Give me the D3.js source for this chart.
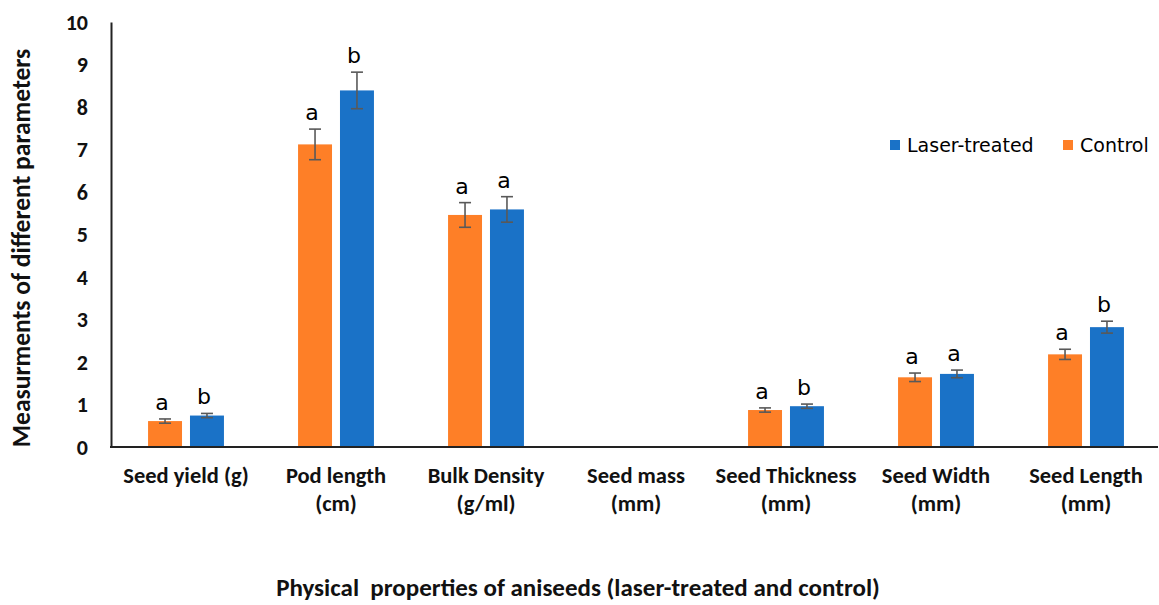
<!DOCTYPE html>
<html>
<head>
<meta charset="utf-8">
<script src="https://cdn.jsdelivr.net/npm/d3@7"></script>
<style>
  html, body { margin: 0; padding: 0; background: #fff; }
  svg { display: block; }
</style>
</head>
<body>
<svg id="chart" width="1159" height="605"></svg>
<script>
// Physical properties of aniseeds: control vs laser-treated means with error bars
const categories = [
  ["Seed yield (g)"],
  ["Pod length", "(cm)"],
  ["Bulk Density", "(g/ml)"],
  ["Seed mass", "(mm)"],
  ["Seed Thickness", "(mm)"],
  ["Seed Width", "(mm)"],
  ["Seed Length", "(mm)"]
];
const seriesNames = ["Control", "Laser-treated"];
const controlValues = [0.61, 7.12, 5.46, null, 0.87, 1.64, 2.18];
const controlErrors = [0.05, 0.36, 0.29, null, 0.05, 0.10, 0.12];
const controlLetters = ["a", "a", "a", null, "a", "a", "a"];
const laserValues = [0.74, 8.39, 5.59, null, 0.96, 1.72, 2.82];
const laserErrors = [0.05, 0.43, 0.30, null, 0.05, 0.09, 0.14];
const laserLetters = ["b", "b", "a", null, "b", "a", "b"];
const yTicks = [0, 1, 2, 3, 4, 5, 6, 7, 8, 9, 10];
const legendOrder = ["Laser-treated", "Control"];

const colors = { "Control": "#fe7f27", "Laser-treated": "#1a72c7" };
const labelFont = "Carlito, Lato, 'Open Sans', sans-serif";
const plainFont = "'DejaVu Sans', Verdana, sans-serif";

const svg = d3.select("#chart");
const plot = { left: 111, right: 1161, top: 22, bottom: 447 };

const x0 = d3.scaleBand()
  .domain(d3.range(categories.length))
  .range([plot.left, plot.right])
  .padding(0);

const x1 = d3.scaleBand()
  .domain(seriesNames)
  .range([x0.bandwidth() * 0.247, x0.bandwidth() * 0.753])
  .paddingInner(0.19)
  .paddingOuter(0);

const y = d3.scaleLinear().domain([0, 10]).range([plot.bottom, plot.top]);

const series = [
  { name: "Control", values: controlValues, errors: controlErrors, letters: controlLetters },
  { name: "Laser-treated", values: laserValues, errors: laserErrors, letters: laserLetters }
];

const rows = [];
series.forEach(s => {
  s.values.forEach((v, i) => {
    if (v == null) return;
    rows.push({ i, name: s.name, value: v, err: s.errors[i], letter: s.letters[i] });
  });
});

// bars
svg.append("g").selectAll("rect")
  .data(rows)
  .join("rect")
  .attr("x", d => x0(d.i) + x1(d.name))
  .attr("y", d => y(d.value))
  .attr("width", x1.bandwidth())
  .attr("height", d => y(0) - y(d.value))
  .attr("fill", d => colors[d.name]);

// error bars
const eb = svg.append("g")
  .attr("stroke", "#595959")
  .attr("stroke-width", 1.6)
  .attr("fill", "none");
rows.forEach(d => {
  const cx = x0(d.i) + x1(d.name) + x1.bandwidth() / 2;
  const y1 = y(d.value + d.err), y2 = y(d.value - d.err);
  eb.append("line").attr("x1", cx).attr("x2", cx).attr("y1", y1).attr("y2", y2);
  eb.append("line").attr("x1", cx - 6).attr("x2", cx + 6).attr("y1", y1).attr("y2", y1);
  eb.append("line").attr("x1", cx - 6).attr("x2", cx + 6).attr("y1", y2).attr("y2", y2);
});

// significance letters
svg.append("g").selectAll("text")
  .data(rows.filter(d => d.letter))
  .join("text")
  .attr("x", d => x0(d.i) + x1(d.name) + x1.bandwidth() / 2 - 3)
  .attr("y", d => y(d.value + d.err) - 9)
  .attr("text-anchor", "middle")
  .attr("font-family", plainFont)
  .attr("font-size", 22)
  .attr("fill", "#000")
  .text(d => d.letter);

// axes
const yAxis = svg.append("g")
  .attr("transform", `translate(${plot.left},0)`)
  .call(d3.axisLeft(y).tickValues(yTicks).tickSize(0).tickPadding(23).tickFormat(d3.format("d")));
yAxis.select(".domain").attr("stroke", "#222").attr("stroke-width", 2);
yAxis.selectAll("text")
  .attr("font-family", labelFont)
  .attr("font-weight", "bold")
  .attr("font-size", 22)
  .attr("fill", "#111");

svg.append("line")
  .attr("x1", plot.left - 1).attr("x2", 1158)
  .attr("y1", y(0)).attr("y2", y(0))
  .attr("stroke", "#222").attr("stroke-width", 2);

// category labels
const catG = svg.append("g");
categories.forEach((lines, i) => {
  const t = catG.append("text")
    .attr("x", x0(i) + x0.bandwidth() / 2)
    .attr("y", 483)
    .attr("text-anchor", "middle")
    .attr("font-family", labelFont)
    .attr("font-weight", "bold")
    .attr("font-size", 22.5)
    .attr("fill", "#111");
  lines.forEach((ln, k) => {
    t.append("tspan")
      .attr("x", x0(i) + x0.bandwidth() / 2)
      .attr("dy", k === 0 ? 0 : 28)
      .text(ln);
  });
});

// axis titles
svg.append("text")
  .attr("transform", `translate(30,248) rotate(-90)`)
  .attr("text-anchor", "middle")
  .attr("font-family", labelFont)
  .attr("font-weight", "bold")
  .attr("font-size", 25.5)
  .attr("fill", "#111")
  .text("Measurments of different parameters");

svg.append("text")
  .attr("x", 578)
  .attr("y", 596)
  .attr("text-anchor", "middle")
  .attr("font-family", labelFont)
  .attr("font-weight", "bold")
  .attr("font-size", 25)
  .attr("fill", "#111")
  .attr("xml:space", "preserve")
  .text("Physical  properties of aniseeds (laser-treated and control)");

// legend
const legend = svg.append("g");
const legendX = [890, 1063];
legendOrder.forEach((name, k) => {
  const g = legend.append("g").attr("transform", `translate(${legendX[k]},145)`);
  g.append("rect").attr("x", 0).attr("y", -5).attr("width", 10).attr("height", 10).attr("fill", colors[name]);
  g.append("text")
    .attr("x", 17).attr("y", 0)
    .attr("dy", "0.35em")
    .attr("font-family", plainFont)
    .attr("font-size", 19)
    .attr("fill", "#000")
    .text(name);
});
</script>
</body>
</html>
